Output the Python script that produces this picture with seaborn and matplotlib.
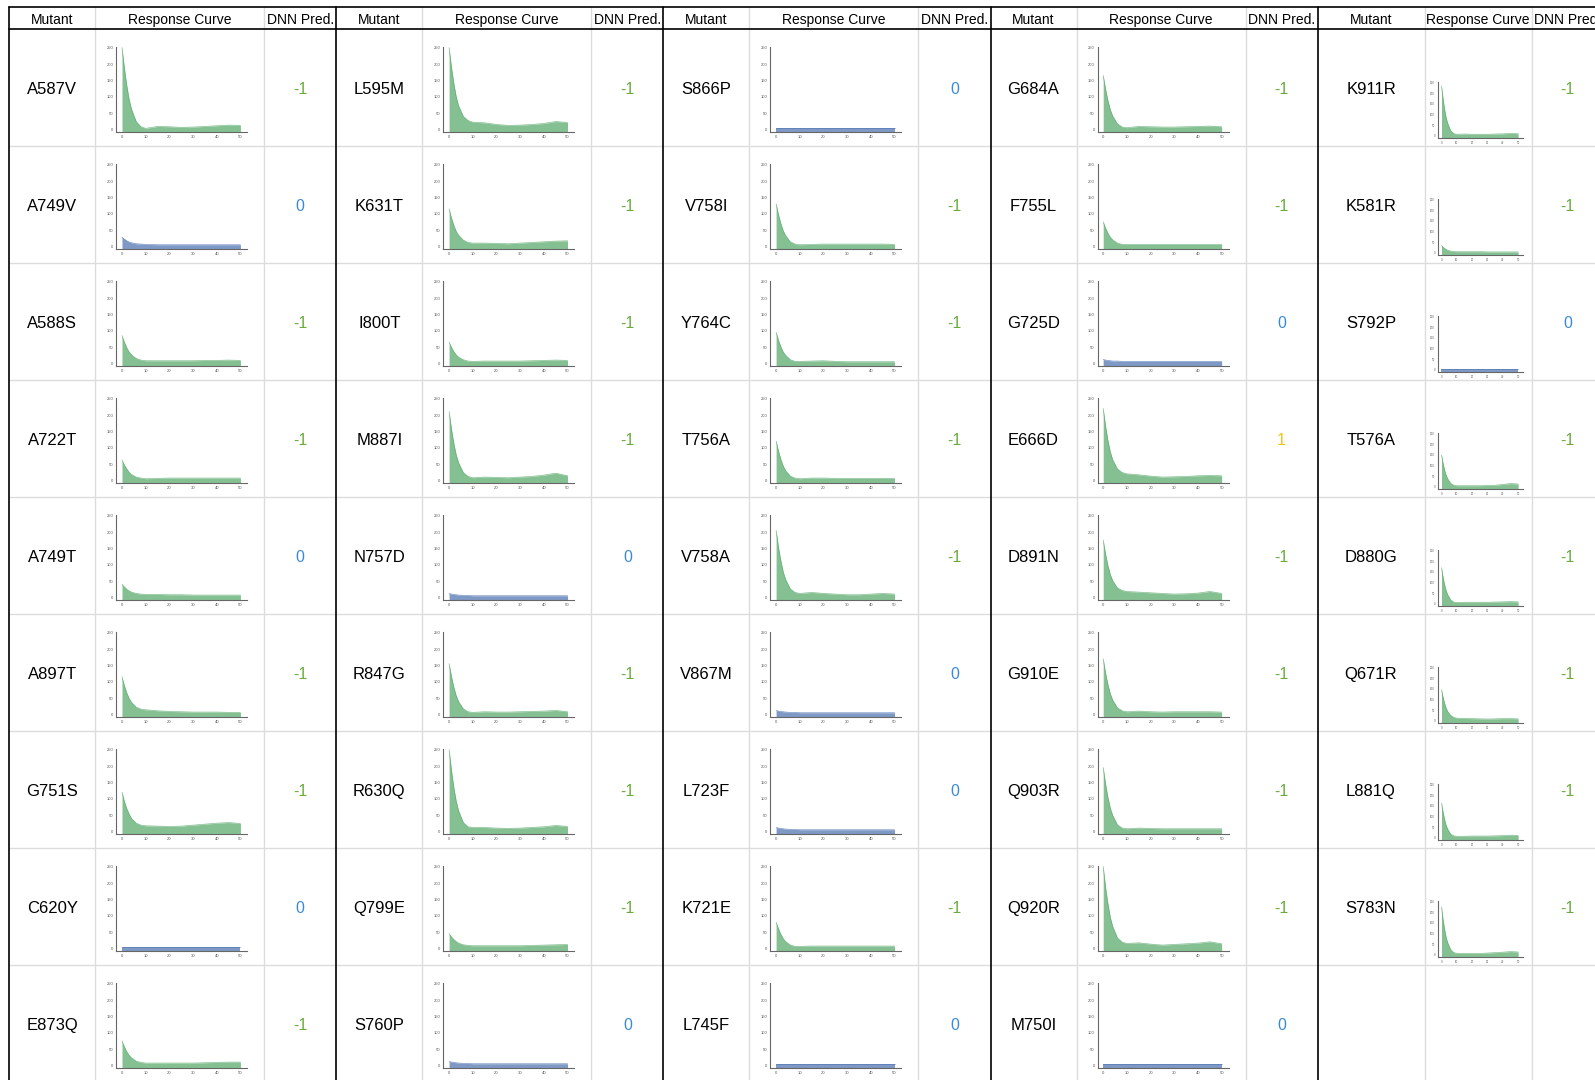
import pandas as pd
import seaborn as sns
import matplotlib.pyplot as plt

sns.set_style("white")
plt.rcParams['font.family'] = ['Liberation Sans', 'DejaVu Sans']

# dose points of every response curve
x_pts = [0, 1, 2, 3, 4, 6, 8, 10, 15, 20, 25, 30, 35, 40, 45, 50]

# column block 1
mutants_g1 = ['A587V', 'A749V', 'A588S', 'A722T', 'A749T', 'A897T', 'G751S', 'C620Y', 'E873Q']
pred_g1 = [-1, 0, -1, -1, 0, -1, -1, 0, -1]
flat_g1 = [False, True, False, False, False, False, False, True, False]
curves_g1 = [
    [250, 188, 135, 92, 62, 24, 8, 3, 9, 8, 6, 7, 9, 11, 13, 12],
    [28, 22, 17, 13, 11, 8, 7, 6, 5, 5, 5, 5, 5, 5, 5, 5],
    [85, 65, 48, 35, 26, 15, 10, 8, 8, 8, 8, 8, 9, 9, 10, 9],
    [62, 47, 35, 25, 18, 10, 7, 5, 6, 7, 7, 7, 7, 7, 7, 7],
    [40, 32, 25, 20, 16, 12, 10, 9, 9, 8, 8, 7, 7, 7, 7, 7],
    [115, 88, 66, 49, 37, 22, 16, 14, 11, 9, 8, 7, 7, 7, 6, 6],
    [120, 92, 70, 53, 40, 25, 19, 17, 16, 15, 16, 19, 22, 25, 27, 24],
    [5, 5, 5, 5, 5, 5, 5, 5, 5, 5, 5, 5, 5, 5, 5, 5],
    [75, 57, 42, 31, 23, 13, 9, 7, 7, 7, 7, 7, 8, 9, 10, 10],
]

# column block 2
mutants_g2 = ['L595M', 'K631T', 'I800T', 'M887I', 'N757D', 'R847G', 'R630Q', 'Q799E', 'S760P']
pred_g2 = [-1, -1, -1, -1, 0, -1, -1, -1, 0]
flat_g2 = [False, False, False, False, True, False, False, False, True]
curves_g2 = [
    [250, 190, 140, 100, 72, 40, 27, 22, 20, 15, 12, 13, 15, 18, 24, 21],
    [115, 87, 64, 46, 34, 19, 12, 10, 10, 9, 8, 10, 12, 14, 16, 17],
    [65, 49, 36, 26, 19, 11, 7, 6, 7, 7, 7, 7, 8, 9, 10, 9],
    [210, 157, 113, 78, 54, 24, 12, 8, 10, 9, 8, 10, 12, 16, 22, 14],
    [12, 10, 9, 8, 7, 6, 6, 5, 5, 5, 5, 5, 5, 5, 5, 5],
    [155, 116, 83, 57, 39, 17, 8, 6, 8, 7, 7, 8, 9, 10, 12, 8],
    [250, 187, 134, 92, 63, 27, 14, 12, 12, 10, 9, 10, 12, 14, 18, 15],
    [45, 35, 27, 21, 16, 11, 9, 8, 8, 8, 8, 8, 9, 10, 11, 12],
    [12, 10, 9, 8, 7, 6, 6, 5, 5, 5, 5, 5, 5, 5, 5, 5],
]

# column block 3
mutants_g3 = ['S866P', 'V758I', 'Y764C', 'T756A', 'V758A', 'V867M', 'L723F', 'K721E', 'L745F']
pred_g3 = [0, -1, -1, -1, -1, 0, 0, -1, 0]
flat_g3 = [True, False, False, False, False, True, True, False, True]
curves_g3 = [
    [5, 5, 5, 5, 5, 5, 5, 5, 5, 5, 5, 5, 5, 5, 5, 5],
    [130, 97, 70, 48, 33, 14, 7, 5, 6, 7, 7, 7, 7, 7, 7, 6],
    [95, 71, 51, 35, 25, 11, 6, 6, 7, 8, 6, 5, 5, 5, 5, 5],
    [120, 90, 64, 44, 30, 13, 7, 5, 7, 7, 6, 6, 6, 6, 6, 6],
    [205, 154, 112, 78, 55, 26, 15, 12, 15, 12, 10, 8, 8, 10, 12, 10],
    [12, 10, 9, 8, 7, 6, 6, 5, 5, 5, 5, 5, 5, 5, 5, 5],
    [12, 10, 9, 8, 7, 6, 6, 5, 5, 5, 5, 5, 5, 5, 5, 5],
    [80, 60, 43, 30, 21, 10, 6, 6, 7, 7, 7, 7, 7, 7, 7, 7],
    [5, 5, 5, 5, 5, 5, 5, 5, 5, 5, 5, 5, 5, 5, 5, 5],
]

# column block 4
mutants_g4 = ['G684A', 'F755L', 'G725D', 'E666D', 'D891N', 'G910E', 'Q903R', 'Q920R', 'M750I']
pred_g4 = [-1, -1, 0, 1, -1, -1, -1, -1, 0]
flat_g4 = [False, False, True, False, False, False, False, False, True]
curves_g4 = [
    [165, 123, 88, 60, 41, 17, 7, 5, 9, 8, 7, 7, 8, 9, 10, 8],
    [75, 56, 40, 28, 20, 10, 6, 6, 6, 6, 6, 6, 6, 6, 6, 6],
    [12, 10, 9, 8, 7, 7, 6, 6, 6, 6, 6, 6, 6, 6, 6, 6],
    [220, 166, 122, 87, 63, 35, 24, 20, 17, 13, 10, 11, 12, 14, 15, 14],
    [175, 132, 97, 70, 51, 29, 21, 18, 16, 14, 12, 10, 11, 13, 18, 12],
    [170, 127, 91, 63, 44, 20, 11, 8, 10, 8, 7, 8, 8, 8, 8, 7],
    [195, 145, 104, 71, 49, 20, 10, 8, 10, 9, 8, 8, 8, 8, 8, 8],
    [250, 187, 136, 95, 67, 32, 19, 15, 17, 13, 10, 12, 14, 16, 20, 14],
    [5, 5, 5, 5, 5, 5, 5, 5, 5, 5, 5, 5, 5, 5, 5, 5],
]

# column block 5 (cut off at the right edge)
mutants_g5 = ['K911R', 'K581R', 'S792P', 'T576A', 'D880G', 'Q671R', 'L881Q', 'S783N']
pred_g5 = [-1, -1, 0, -1, -1, -1, -1, -1]
flat_g5 = [False, False, True, False, False, False, False, False]
curves_g5 = [
    [235, 175, 126, 87, 60, 25, 11, 8, 9, 8, 8, 8, 9, 10, 12, 11],
    [35, 28, 22, 17, 13, 9, 7, 6, 6, 6, 6, 5, 5, 5, 5, 5],
    [5, 5, 5, 5, 5, 5, 5, 5, 5, 5, 5, 5, 5, 5, 5, 5],
    [150, 112, 80, 56, 39, 17, 8, 6, 6, 6, 6, 7, 8, 12, 16, 14],
    [170, 127, 91, 63, 44, 19, 9, 7, 8, 8, 8, 8, 9, 10, 11, 10],
    [147, 112, 83, 61, 45, 26, 17, 13, 12, 11, 10, 9, 10, 11, 11, 10],
    [163, 122, 87, 60, 42, 18, 10, 8, 8, 9, 9, 9, 10, 11, 13, 12],
    [225, 168, 121, 84, 58, 25, 11, 8, 7, 7, 7, 9, 11, 13, 16, 14],
]

headers = ['Mutant', 'Response Curve', 'DNN Pred.']

groups = [
    (mutants_g1, pred_g1, flat_g1, curves_g1),
    (mutants_g2, pred_g2, flat_g2, curves_g2),
    (mutants_g3, pred_g3, flat_g3, curves_g3),
    (mutants_g4, pred_g4, flat_g4, curves_g4),
    (mutants_g5, pred_g5, flat_g5, curves_g5),
]

pred_colors = {-1: '#6aab3e', 0: '#3b8ad8', 1: '#f2c318'}
green = sns.color_palette('deep')[2]
blue = sns.color_palette('deep')[0]

# layout in pixels
W, H = 1595, 1080
group_x = [9.3, 336.4, 663.4, 990.5, 1317.5]
col_w = [(86, 169, 72)] * 4 + [(107, 107, 72)]
top_y, head_y, row_h = 7, 29, 117
n_rows = 9
light = '#dcdcdc'

fig = plt.figure(figsize=(W / 100, H / 100), dpi=100)
bg = fig.add_axes([0, 0, 1, 1])
bg.set_xlim(0, W)
bg.set_ylim(H, 0)
bg.axis('off')


def mini_chart(rect, values, color, fs):
    l, t, r, b = rect
    ax = fig.add_axes([l / W, 1 - b / H, (r - l) / W, (b - t) / H])
    df = pd.DataFrame({'x': x_pts, 'y': values})
    sns.lineplot(data=df, x='x', y='y', ax=ax, color=color, lw=0.5, alpha=0.75)
    ax.fill_between(df['x'], df['y'], -9, color=color, alpha=0.72, lw=0)
    ax.set_xlim(-2.4, 52.9)
    ax.set_ylim(-9, 253)
    ax.set_xticks(range(0, 51, 10))
    ax.set_yticks(range(0, 251, 50))
    ax.set_xlabel('')
    ax.set_ylabel('')
    ax.tick_params(length=0, labelsize=fs, colors='#555555', pad=2)
    sns.despine(ax=ax)
    for s in ['left', 'bottom']:
        ax.spines[s].set_color('#666666')
        ax.spines[s].set_linewidth(0.8)
    ax.patch.set_alpha(0)


for gi, (muts, preds, flats, curves) in enumerate(groups):
    gx = group_x[gi]
    wm, wr, wd = col_w[gi]
    xs = [gx, gx + wm, gx + wm + wr, gx + wm + wr + wd]
    # light inner column lines
    for xv in xs[1:3]:
        bg.plot([xv, xv], [top_y, H], color=light, lw=1)
    # headers
    for ci, htxt in enumerate(headers):
        bg.text((xs[ci] + xs[ci + 1]) / 2, (top_y + head_y) / 2 + 2, htxt,
                ha='center', va='center', fontsize=10, color='black')
    for ri in range(len(muts)):
        ry = head_y + ri * row_h
        cy = ry + row_h / 2 + 2
        bg.text((xs[0] + xs[1]) / 2, cy, muts[ri], ha='center', va='center',
                fontsize=12, color='black')
        p = preds[ri]
        bg.text((xs[2] + xs[3]) / 2, cy, str(p), ha='center', va='center',
                fontsize=11.5, color=pred_colors[p])
        col = blue if flats[ri] else green
        if gi < 4:
            rect = (xs[1] + 21, ry + 17.7, xs[1] + 152, ry + 103.3)
            fs = 3
        else:
            rect = (xs[1] + 13.3, ry + 53, xs[1] + 98.1, ry + 108.9)
            fs = 2
        mini_chart(rect, curves[ri], col, fs)

# light row lines
for ri in range(1, n_rows + 1):
    yv = head_y + ri * row_h
    bg.plot([group_x[0], W], [yv, yv], color=light, lw=1)

# dark frame lines
bg.plot([group_x[0], W], [top_y, top_y], color='black', lw=1.2)
bg.plot([group_x[0], W], [head_y, head_y], color='black', lw=1.2)
for gx in group_x:
    bg.plot([gx, gx], [top_y, H], color='black', lw=1.2)

plt.savefig('out.png', dpi=100)
